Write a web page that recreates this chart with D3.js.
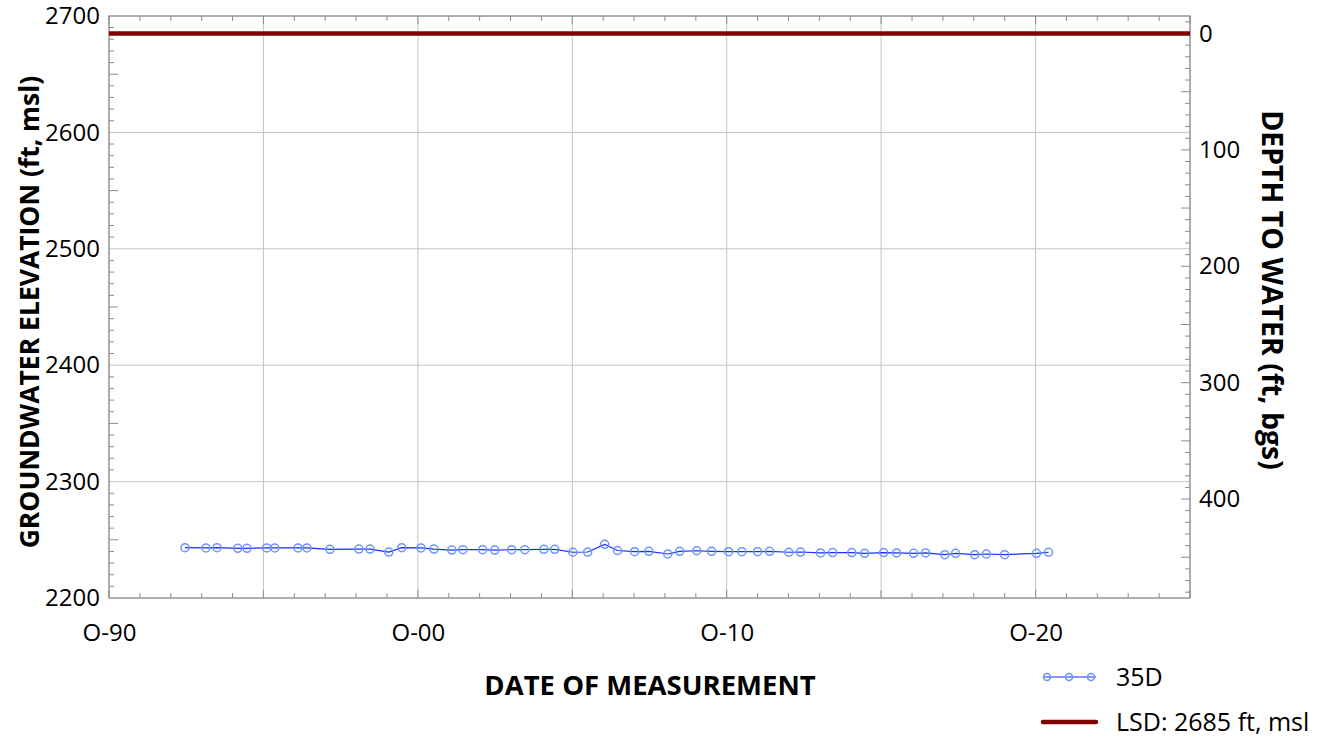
<!DOCTYPE html>
<html>
<head>
<meta charset="utf-8">
<script src="https://cdn.jsdelivr.net/npm/d3@7"></script>
<style>
  body { margin: 0; background: #fff; }
  text { font-family: "Open Sans", "Noto Sans", sans-serif; fill: #000; }
  .tickText { font-size: 24px; }
  .axisTitle { font-weight: bold; }
  .legendText { font-size: 25px; }
</style>
</head>
<body>
<div id="chart"></div>
<script>
/** ********************************
 *           Global Constants
 ********************************** */

// Measurement dates of well 35D
const dates = [
    "1993-03-18", "1993-11-21", "1994-04-01", "1994-12-02", "1995-03-21",
    "1995-11-10", "1996-02-13", "1996-11-14", "1997-02-27", "1997-11-25",
    "1998-11-03", "1999-03-14", "1999-10-23", "2000-03-24", "2000-11-06",
    "2001-04-09", "2001-11-06", "2002-03-18", "2002-11-06", "2003-03-29",
    "2003-10-15", "2004-03-18", "2004-10-30", "2005-03-07", "2005-10-08",
    "2006-04-01", "2006-10-19", "2007-03-21", "2007-10-08", "2008-03-24",
    "2008-11-03", "2009-03-24", "2009-10-12", "2010-04-05", "2010-10-23",
    "2011-03-29", "2011-10-01", "2012-02-20", "2012-10-04", "2013-02-20",
    "2013-10-15", "2014-03-07", "2014-10-19", "2015-03-21", "2015-10-30",
    "2016-04-01", "2016-10-19", "2017-03-10", "2017-10-23", "2018-02-27",
    "2018-10-12", "2019-02-27", "2019-10-01", "2020-10-12", "2021-03-03"
];

// Groundwater elevation (ft, msl)
const elevations = [
    2243.2, 2243.0, 2243.2, 2242.7, 2242.7,
    2243.0, 2243.0, 2243.0, 2243.0, 2241.8,
    2242.0, 2242.0, 2239.5, 2243.2, 2243.0,
    2242.0, 2241.2, 2241.5, 2241.5, 2241.2,
    2241.5, 2241.5, 2241.8, 2241.8, 2239.3,
    2239.5, 2246.1, 2240.8, 2239.8, 2240.1,
    2237.8, 2240.1, 2240.6, 2240.1, 2239.8,
    2239.8, 2239.8, 2240.1, 2239.3, 2239.5,
    2238.7, 2239.0, 2239.0, 2238.4, 2239.0,
    2238.7, 2238.4, 2238.7, 2237.2, 2238.4,
    2237.2, 2237.8, 2237.2, 2238.4, 2239.3
];

// Land surface datum
const lsd = 2685;

// Axis ranges and tick values
const dateDomain = ["1990-10-01", "2025-10-01"];
const elevDomain = [2200, 2700];
const elevTicks = [2200, 2300, 2400, 2500, 2600, 2700];
const depthTicks = [0, 100, 200, 300, 400];
const dateLabelYears = [1990, 2000, 2010, 2020];

// Legend entries
const legendLabels = ["35D", `LSD: ${lsd} ft, msl`];

// ============
//   Plot box
// ============

const svgWidth = 1328;
const svgHeight = 742;

const margins = { top: 16, right: 138, bottom: 144, left: 109 };

const width  = svgWidth  - margins.left - margins.right;
const height = svgHeight - margins.top  - margins.bottom;

const gridColor = "#c4c4c4";
const frameColor = "#8c8c8c";

/** ********************************
 *            Main part
 ********************************** */

const parseDate = d3.timeParse("%Y-%m-%d");
const table = dates.map((d, i) => ({ date: parseDate(d), elev: elevations[i] }));

const svg = d3.select("#chart").append("svg")
    .attr("width", svgWidth)
    .attr("height", svgHeight);

const chartGroup = svg.append("g")
    .attr("transform", `translate(${margins.left}, ${margins.top})`);

// Scales
const xScale = d3.scaleTime()
    .domain(dateDomain.map(parseDate))
    .range([0, width]);

const yScale = d3.scaleLinear()
    .domain(elevDomain)
    .range([height, 0]);

// depth below land surface, 0 at LSD
const depthScale = d3.scaleLinear()
    .domain([lsd - elevDomain[0], lsd - elevDomain[1]])
    .range([height, 0]);

// October of every year inside the domain
const yearTicks = d3.range(1990, 2026).map(y => new Date(y, 9, 1));

/**
 * Draw inward-pointing tick marks along one side of the frame
 */
function drawTicks(values, pos, side, lenOf) {
    const g = chartGroup.append("g").attr("stroke", frameColor).attr("stroke-width", 1);
    values.forEach(v => {
        const p = pos(v), len = lenOf(v);
        let x1, y1, x2, y2;
        if (side === "bottom") { x1 = x2 = p; y1 = height; y2 = height - len; }
        if (side === "top")    { x1 = x2 = p; y1 = 0; y2 = len; }
        if (side === "left")   { y1 = y2 = p; x1 = 0; x2 = len; }
        if (side === "right")  { y1 = y2 = p; x1 = width; x2 = width - len; }
        g.append("line")
            .attr("x1", x1).attr("y1", y1)
            .attr("x2", x2).attr("y2", y2);
    });
}

// Gridlines
const grid = chartGroup.append("g").attr("stroke", gridColor).attr("stroke-width", 1);
grid.selectAll(".vgrid")
    .data(yearTicks.filter(d => d.getFullYear() % 5 === 0))
    .join("line")
        .attr("x1", d => xScale(d)).attr("x2", d => xScale(d))
        .attr("y1", 0).attr("y2", height);
grid.selectAll(".hgrid")
    .data(elevTicks)
    .join("line")
        .attr("x1", 0).attr("x2", width)
        .attr("y1", d => yScale(d)).attr("y2", d => yScale(d));

// Tick marks
drawTicks(yearTicks, xScale, "bottom", d => d.getFullYear() % 5 === 0 ? 8 : 5);
drawTicks(yearTicks, xScale, "top", d => d.getFullYear() % 5 === 0 ? 8 : 5);
drawTicks(d3.range(2200, 2701, 10), yScale, "left", v => v % 100 === 0 ? 0 : (v % 50 === 0 ? 9 : 5));
drawTicks(d3.range(-10, 481, 10), depthScale, "right", v => v % 50 === 0 ? 9 : 5);

// Frame
chartGroup.append("rect")
    .attr("width", width).attr("height", height)
    .attr("fill", "none")
    .attr("stroke", frameColor)
    .attr("stroke-width", 1.2);

// Axis labels
const xAxis = d3.axisBottom(xScale)
    .tickValues(dateLabelYears.map(y => new Date(y, 9, 1)))
    .tickSize(0).tickPadding(26)
    .tickFormat(d => "O-" + d3.timeFormat("%y")(d));

const yAxis = d3.axisLeft(yScale)
    .tickValues(elevTicks).tickSize(0).tickPadding(9)
    .tickFormat(d3.format("d"));

const y2Axis = d3.axisRight(depthScale)
    .tickValues(depthTicks).tickSize(0).tickPadding(9)
    .tickFormat(d3.format("d"));

[
    chartGroup.append("g").attr("transform", `translate(0, ${height})`).call(xAxis),
    chartGroup.append("g").call(yAxis),
    chartGroup.append("g").attr("transform", `translate(${width}, 0)`).call(y2Axis)
].forEach(g => {
    g.select(".domain").remove();
    g.selectAll("text").attr("class", "tickText").attr("font-size", null).attr("font-family", null);
});

// Axis titles
svg.append("text")
    .attr("class", "axisTitle")
    .attr("font-size", 27.5)
    .attr("text-anchor", "middle")
    .attr("x", 650)
    .attr("y", 695)
    .text("DATE OF MEASUREMENT");

svg.append("text")
    .attr("class", "axisTitle")
    .attr("font-size", 26.5)
    .attr("text-anchor", "middle")
    .attr("transform", "translate(39, 312) rotate(-90)")
    .text("GROUNDWATER ELEVATION (ft, msl)");

svg.append("text")
    .attr("class", "axisTitle")
    .attr("font-size", 28.5)
    .attr("text-anchor", "middle")
    .attr("transform", "translate(1262, 290) rotate(90)")
    .text("DEPTH TO WATER (ft, bgs)");

// LSD line
chartGroup.append("line")
    .attr("x1", 0).attr("x2", width)
    .attr("y1", yScale(lsd)).attr("y2", yScale(lsd))
    .attr("stroke", "#800000")
    .attr("stroke-width", 4.5);

// 35D series
const line = d3.line()
    .x(d => xScale(d.date))
    .y(d => yScale(d.elev));

chartGroup.append("path")
    .datum(table)
    .attr("d", line)
    .attr("fill", "none")
    .attr("stroke", "#1a2cff")
    .attr("stroke-width", 1.2);

chartGroup.append("g").selectAll("circle")
    .data(table)
    .join("circle")
        .attr("cx", d => xScale(d.date))
        .attr("cy", d => yScale(d.elev))
        .attr("r", 4)
        .attr("fill", "none")
        .attr("stroke", "#6a94ff")
        .attr("stroke-width", 1.5);

// Legend
const legend = svg.append("g").attr("transform", "translate(1043, 677)");

legend.append("line")
    .attr("x1", 0).attr("x2", 53).attr("y1", 0).attr("y2", 0)
    .attr("stroke", "#1a2cff").attr("stroke-width", 1.2);
legend.selectAll("circle")
    .data([4, 26, 48])
    .join("circle")
        .attr("cx", d => d).attr("cy", 0).attr("r", 3.5)
        .attr("fill", "none").attr("stroke", "#6a94ff").attr("stroke-width", 1.5);
legend.append("line")
    .attr("x1", 0).attr("x2", 53).attr("y1", 45).attr("y2", 45)
    .attr("stroke", "#800000").attr("stroke-width", 4.5).attr("stroke-linecap", "round");

legend.selectAll("text")
    .data(legendLabels)
    .join("text")
        .attr("class", "legendText")
        .attr("x", 73)
        .attr("y", (_, i) => 45 * i)
        .attr("dy", "0.35em")
        .text(d => d);
</script>
</body>
</html>
